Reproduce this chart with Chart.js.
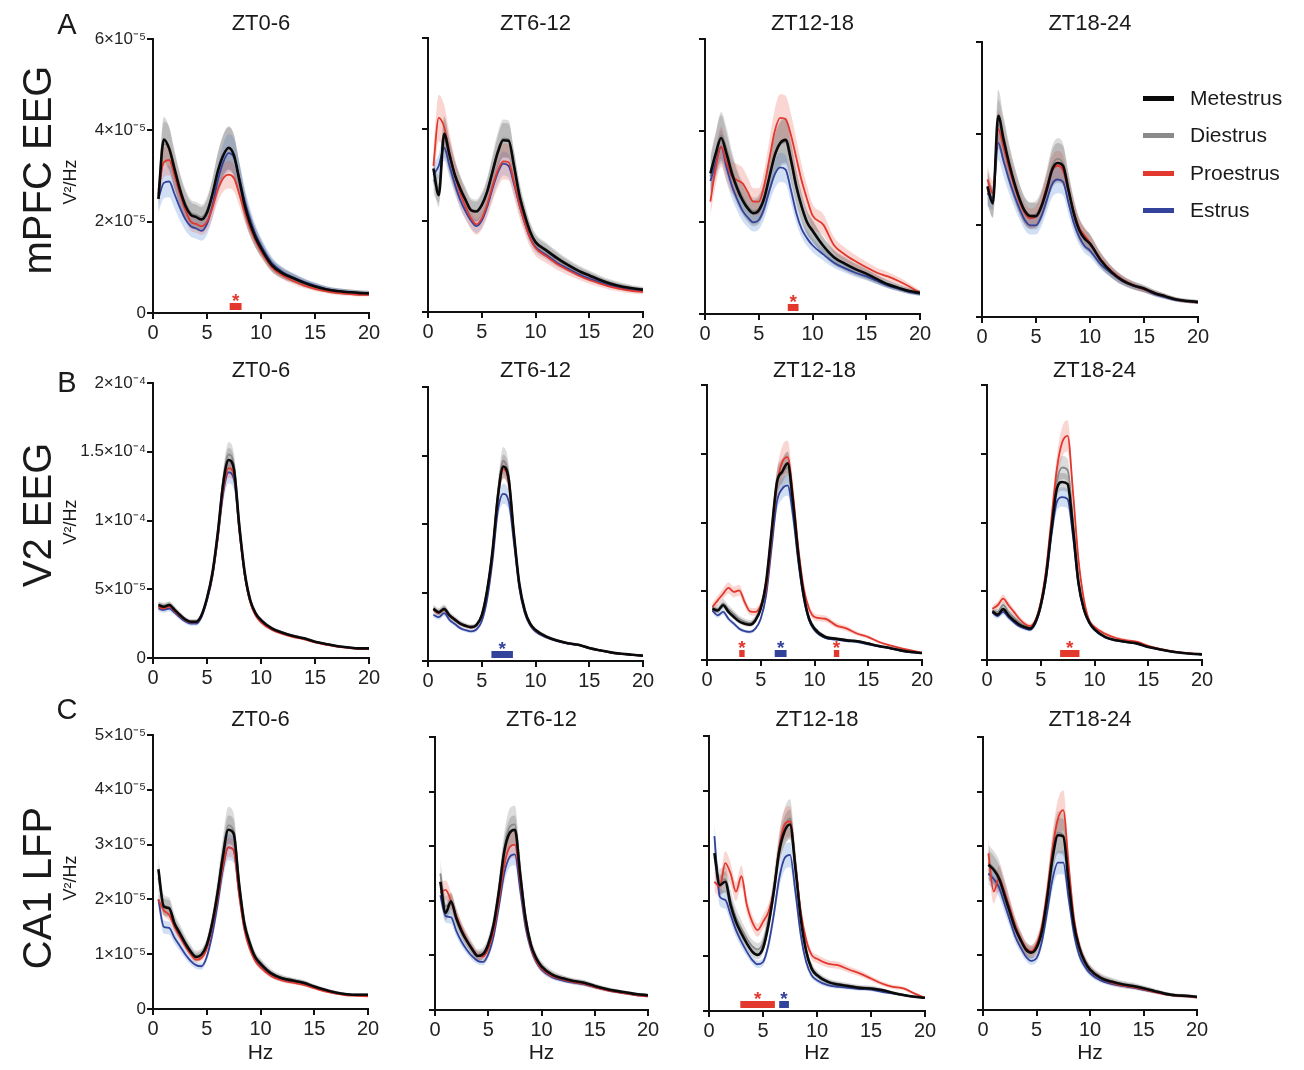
<!DOCTYPE html>
<html>
<head>
<meta charset="utf-8">
<script src="https://cdn.jsdelivr.net/npm/chart.js@4.4.1/dist/chart.umd.min.js"></script>
<style>
  body { margin: 0; background: #fff; width: 1304px; height: 1070px; position: relative; overflow: hidden;
         font-family: "Liberation Sans", Arial, sans-serif; color: #1a1a1a; }
  canvas { position: absolute; }
  .lbl { position: absolute; transform: translate(-50%, -50%); white-space: nowrap; }
  .rot { position: absolute; transform: translate(-50%, -50%) rotate(-90deg); white-space: nowrap; }
  .key { position: absolute; height: 5px; width: 31px; }
  .keytxt { position: absolute; font-size: 21px; transform: translateY(-50%); white-space: nowrap; }
</style>
</head>
<body>
<script>
// frequency bins shared by every panel (Hz)
var freqs = [0.5,1,1.5,2,2.5,3,3.5,4,4.5,5,5.5,6,6.5,7,7.5,8,8.5,9,9.5,10,11,12,13,14,15,16,17,18,19,20];

var stages = ["Metestrus", "Diestrus", "Proestrus", "Estrus"];
var stageColors = ["#0a0a0a", "#8a8a8a", "#e2382d", "#33429a"];
var bandColors = ["rgba(70,70,70,0.22)", "rgba(140,140,140,0.3)", "rgba(235,90,80,0.25)", "rgba(90,140,220,0.28)"];

var rowNames = ["mPFC EEG", "V2 EEG", "CA1 LFP"];
var rowLetters = ["A", "B", "C"];
var panelTitles = ["ZT0-6", "ZT6-12", "ZT12-18", "ZT18-24"];

// y axes, values below are in units of 1e-5 V2/Hz
var rowMax = [6, 20, 5];
var rowStep = [2, 5, 1];
var rowTickLabels = [
  ["0", "2×10⁻⁵", "4×10⁻⁵", "6×10⁻⁵"],
  ["0", "5×10⁻⁵", "1×10⁻⁴", "1.5×10⁻⁴", "2×10⁻⁴"],
  ["0", "1×10⁻⁵", "2×10⁻⁵", "3×10⁻⁵", "4×10⁻⁵", "5×10⁻⁵"]
];

// mPFC EEG, one array per ZT bin (ZT0-6, ZT6-12, ZT12-18, ZT18-24)
var mpfcMet = [
  [2.5,3.8,3.6,3.15,2.7,2.35,2.15,2.1,2.05,2.2,2.6,3.1,3.45,3.62,3.45,2.9,2.35,1.95,1.65,1.42,1.05,0.87,0.76,0.66,0.58,0.52,0.48,0.46,0.44,0.43],
  [3.14,2.56,3.9,3.44,3.0,2.7,2.45,2.23,2.2,2.34,2.63,3.07,3.5,3.76,3.75,3.2,2.56,2.12,1.76,1.53,1.35,1.18,1.03,0.9,0.8,0.7,0.62,0.56,0.52,0.49],
  [3.07,3.5,3.84,3.5,3.07,2.74,2.48,2.3,2.2,2.26,2.52,3.0,3.47,3.73,3.8,3.36,2.78,2.34,2.0,1.82,1.49,1.24,1.1,0.98,0.88,0.76,0.65,0.57,0.5,0.46],
  [2.85,2.48,4.39,3.87,3.36,2.92,2.56,2.3,2.2,2.2,2.41,2.78,3.22,3.36,3.3,2.78,2.26,1.9,1.71,1.6,1.24,0.98,0.8,0.69,0.62,0.52,0.45,0.38,0.35,0.33]
];
var mpfcDi = [
  [2.6,3.7,3.6,3.1,2.7,2.4,2.2,2.15,2.1,2.25,2.6,3.1,3.45,3.6,3.45,2.9,2.35,1.95,1.65,1.42,1.05,0.87,0.76,0.66,0.58,0.52,0.48,0.46,0.44,0.43],
  [2.9,2.7,3.8,3.4,3.0,2.7,2.45,2.25,2.22,2.36,2.65,3.1,3.55,3.8,3.78,3.2,2.58,2.14,1.78,1.55,1.37,1.2,1.05,0.92,0.82,0.72,0.64,0.58,0.53,0.5],
  [3.0,3.5,3.9,3.6,3.15,2.8,2.55,2.35,2.25,2.3,2.55,3.0,3.45,3.7,3.75,3.3,2.75,2.3,1.98,1.8,1.47,1.22,1.08,0.96,0.86,0.75,0.65,0.57,0.5,0.46],
  [2.8,2.5,4.2,3.8,3.3,2.9,2.55,2.3,2.22,2.25,2.45,2.85,3.3,3.45,3.35,2.8,2.3,1.92,1.72,1.6,1.24,0.98,0.8,0.69,0.61,0.52,0.45,0.38,0.35,0.33]
];
var mpfcPro = [
  [2.7,3.3,3.35,3.0,2.6,2.25,2.0,1.95,1.9,2.0,2.3,2.7,2.95,3.03,2.95,2.6,2.2,1.85,1.58,1.35,1.0,0.82,0.7,0.6,0.53,0.48,0.44,0.42,0.4,0.4],
  [3.2,4.25,4.05,3.5,3.0,2.6,2.3,2.05,1.92,2.05,2.35,2.75,3.1,3.3,3.28,2.85,2.35,1.95,1.62,1.4,1.22,1.05,0.92,0.8,0.7,0.62,0.55,0.5,0.46,0.44],
  [2.45,3.2,3.65,3.3,3.0,2.92,2.85,2.65,2.45,2.45,2.8,3.4,4.0,4.28,4.25,3.9,3.4,2.9,2.5,2.15,1.95,1.5,1.3,1.15,1.02,0.9,0.82,0.72,0.6,0.46],
  [3.0,2.7,4.1,3.7,3.25,2.85,2.5,2.25,2.15,2.2,2.45,2.85,3.2,3.3,3.2,2.75,2.3,1.95,1.78,1.62,1.26,1.0,0.82,0.7,0.6,0.52,0.45,0.38,0.34,0.32]
];
var mpfcEst = [
  [2.5,2.85,2.88,2.6,2.3,2.05,1.9,1.85,1.8,1.95,2.35,2.9,3.3,3.5,3.4,2.95,2.45,2.05,1.72,1.48,1.1,0.9,0.78,0.68,0.6,0.53,0.49,0.46,0.44,0.42],
  [3.0,3.2,3.6,3.2,2.8,2.45,2.2,2.0,1.88,2.0,2.3,2.7,3.05,3.25,3.2,2.8,2.35,1.95,1.62,1.42,1.25,1.08,0.95,0.83,0.73,0.65,0.58,0.52,0.48,0.46],
  [2.9,3.3,3.65,3.2,2.8,2.5,2.25,2.1,2.0,2.05,2.3,2.7,3.05,3.2,3.15,2.7,2.2,1.85,1.65,1.5,1.3,1.12,1.0,0.9,0.82,0.72,0.62,0.55,0.48,0.44],
  [2.7,2.6,3.8,3.4,3.0,2.65,2.35,2.1,2.0,2.0,2.2,2.55,2.9,3.0,2.95,2.5,2.05,1.75,1.55,1.45,1.15,0.95,0.78,0.68,0.6,0.5,0.43,0.37,0.34,0.32]
];

// V2 EEG
var v2Met = [
  [3.85,3.73,3.85,3.5,3.13,2.8,2.64,2.64,3.13,4.36,6.18,9.1,12.7,14.4,13.7,9.55,6.18,4.22,3.25,2.76,2.16,1.84,1.6,1.43,1.19,1.02,0.87,0.78,0.7,0.7],
  [3.8,3.55,3.8,3.33,3.02,2.73,2.57,2.47,2.62,3.33,5.15,8.0,12.0,14.2,13.3,9.2,5.6,3.7,2.72,2.26,1.78,1.49,1.3,1.18,0.95,0.78,0.63,0.53,0.46,0.39],
  [3.73,3.6,3.98,3.5,3.13,2.8,2.64,2.57,2.88,3.73,5.67,9.3,12.9,13.7,14.3,11.5,7.6,4.7,3.0,2.28,1.67,1.55,1.43,1.36,1.19,1.02,0.87,0.7,0.58,0.51],
  [3.54,3.3,3.7,3.25,2.88,2.57,2.4,2.28,2.76,3.98,6.16,9.55,12.46,12.95,12.8,9.55,5.67,3.73,2.76,2.23,1.67,1.43,1.31,1.19,0.95,0.78,0.63,0.53,0.46,0.41]
];
var v2Di = [
  [3.9,3.8,3.9,3.55,3.15,2.82,2.66,2.66,3.15,4.4,6.25,9.2,12.9,14.8,14.0,9.7,6.25,4.25,3.27,2.78,2.18,1.86,1.62,1.45,1.2,1.03,0.88,0.79,0.71,0.7],
  [3.85,3.6,3.85,3.37,3.05,2.76,2.6,2.5,2.64,3.37,5.2,8.1,12.2,14.6,13.5,9.3,5.67,3.73,2.76,2.28,1.8,1.5,1.31,1.19,0.95,0.78,0.63,0.53,0.46,0.39],
  [3.8,3.7,4.1,3.7,3.35,3.0,2.8,2.7,3.0,3.85,5.7,9.3,12.8,13.6,14.0,11.3,7.5,4.7,3.05,2.32,1.7,1.57,1.45,1.37,1.2,1.03,0.88,0.71,0.59,0.52],
  [3.6,3.5,4.0,3.5,3.1,2.75,2.5,2.35,2.8,4.05,6.3,9.8,13.0,14.0,13.8,10.2,5.9,3.8,2.8,2.26,1.7,1.45,1.33,1.2,0.96,0.79,0.64,0.54,0.46,0.41]
];
var v2Pro = [
  [3.7,3.6,3.75,3.4,3.05,2.75,2.6,2.6,3.1,4.3,6.0,8.8,12.2,13.8,13.3,9.3,6.0,4.05,3.1,2.6,2.05,1.75,1.52,1.36,1.13,0.97,0.83,0.74,0.67,0.66],
  [3.75,3.5,3.75,3.3,3.0,2.7,2.55,2.45,2.6,3.3,5.1,7.9,11.9,14.0,13.1,9.1,5.55,3.65,2.7,2.24,1.77,1.48,1.29,1.17,0.94,0.77,0.62,0.52,0.45,0.38],
  [3.85,4.34,4.82,5.24,4.95,5.07,4.22,3.54,3.5,3.98,5.2,8.8,12.7,14.4,14.76,12.0,8.1,5.2,3.73,3.13,3.0,2.52,2.28,1.91,1.67,1.31,1.07,0.87,0.7,0.53],
  [3.73,3.98,4.46,3.98,3.5,3.0,2.64,2.47,2.88,4.2,6.6,10.3,13.9,15.85,16.3,12.2,7.37,4.46,2.9,2.4,1.9,1.6,1.43,1.31,1.02,0.82,0.67,0.56,0.48,0.43]
];
var v2Est = [
  [3.6,3.5,3.6,3.3,2.95,2.65,2.5,2.5,3.0,4.2,5.9,8.7,12.0,13.5,13.0,9.2,6.0,4.1,3.15,2.68,2.1,1.8,1.57,1.4,1.17,1.0,0.85,0.76,0.69,0.68],
  [3.37,3.2,3.5,3.0,2.7,2.4,2.25,2.16,2.3,2.9,4.5,7.3,11.0,12.2,11.7,8.6,5.3,3.5,2.6,2.15,1.72,1.45,1.27,1.15,0.93,0.76,0.61,0.51,0.44,0.38],
  [3.6,3.25,3.5,3.0,2.64,2.28,2.1,2.04,2.28,3.0,4.7,8.1,11.5,12.46,12.7,10.5,7.1,4.46,2.88,2.16,1.6,1.48,1.38,1.3,1.14,0.98,0.84,0.68,0.56,0.5],
  [3.45,3.2,3.5,3.1,2.75,2.45,2.3,2.2,2.65,3.85,5.9,9.1,11.5,11.85,11.7,9.0,5.5,3.65,2.7,2.2,1.65,1.42,1.3,1.18,0.95,0.78,0.63,0.53,0.46,0.41]
];

// CA1 LFP
var ca1Met = [
  [2.55,1.87,1.84,1.56,1.38,1.2,1.05,0.95,0.99,1.17,1.56,2.11,2.78,3.27,3.2,2.29,1.56,1.2,0.95,0.83,0.65,0.56,0.52,0.48,0.41,0.35,0.3,0.27,0.26,0.26],
  [2.35,1.78,1.99,1.68,1.44,1.26,1.11,0.99,1.02,1.2,1.56,2.17,2.9,3.24,3.3,2.48,1.68,1.2,0.95,0.8,0.65,0.58,0.53,0.5,0.44,0.39,0.35,0.32,0.29,0.27],
  [2.87,2.29,2.35,1.93,1.62,1.41,1.23,1.08,1.02,1.14,1.56,2.17,2.9,3.27,3.39,2.6,1.68,1.08,0.77,0.65,0.53,0.48,0.45,0.42,0.41,0.38,0.33,0.29,0.26,0.24],
  [2.66,2.57,2.41,2.11,1.8,1.5,1.29,1.11,1.05,1.14,1.44,2.05,2.78,3.2,3.18,2.35,1.56,1.14,0.89,0.74,0.59,0.52,0.47,0.44,0.4,0.35,0.3,0.27,0.26,0.24]
];
var ca1Di = [
  [2.4,1.9,1.85,1.58,1.4,1.22,1.07,0.97,1.0,1.18,1.58,2.15,2.85,3.35,3.25,2.32,1.58,1.21,0.96,0.84,0.66,0.57,0.52,0.48,0.41,0.35,0.3,0.27,0.26,0.26],
  [2.5,1.9,1.95,1.7,1.46,1.28,1.13,1.01,1.04,1.22,1.58,2.2,2.95,3.35,3.4,2.55,1.7,1.22,0.96,0.81,0.66,0.58,0.53,0.5,0.44,0.39,0.35,0.32,0.29,0.27],
  [2.8,2.35,2.4,2.0,1.7,1.5,1.32,1.18,1.12,1.24,1.65,2.25,2.95,3.35,3.5,2.7,1.75,1.12,0.8,0.67,0.54,0.49,0.46,0.43,0.42,0.38,0.33,0.29,0.26,0.24],
  [2.7,2.6,2.45,2.15,1.82,1.52,1.3,1.12,1.06,1.16,1.47,2.1,2.85,3.25,3.2,2.4,1.6,1.16,0.9,0.75,0.6,0.53,0.48,0.45,0.4,0.35,0.3,0.27,0.26,0.24]
];
var ca1Pro = [
  [2.0,1.8,1.72,1.5,1.32,1.15,1.0,0.9,0.93,1.1,1.5,2.0,2.6,2.95,2.9,2.1,1.45,1.1,0.88,0.76,0.6,0.52,0.48,0.44,0.38,0.32,0.28,0.25,0.24,0.23],
  [2.15,2.2,2.0,1.72,1.48,1.28,1.12,1.0,0.98,1.12,1.45,2.0,2.65,2.98,3.03,2.35,1.6,1.15,0.9,0.76,0.62,0.56,0.51,0.48,0.42,0.37,0.33,0.3,0.27,0.25],
  [2.35,2.26,2.69,2.5,2.17,2.45,1.93,1.62,1.47,1.62,1.8,2.17,2.96,3.39,3.45,2.66,1.8,1.29,1.02,0.95,0.86,0.83,0.75,0.68,0.59,0.5,0.44,0.41,0.32,0.24],
  [2.87,2.17,2.41,2.17,1.87,1.56,1.32,1.14,1.08,1.2,1.53,2.17,2.96,3.5,3.66,2.66,1.68,1.17,0.9,0.74,0.58,0.5,0.45,0.42,0.38,0.33,0.29,0.26,0.25,0.23]
];
var ca1Est = [
  [2.0,1.5,1.48,1.3,1.15,1.0,0.88,0.8,0.78,0.95,1.35,1.9,2.55,2.95,2.9,2.15,1.5,1.15,0.92,0.8,0.63,0.54,0.5,0.46,0.4,0.34,0.29,0.27,0.25,0.25],
  [2.1,1.72,1.7,1.45,1.25,1.1,0.98,0.9,0.88,1.02,1.35,1.9,2.5,2.8,2.85,2.2,1.52,1.12,0.88,0.74,0.6,0.54,0.5,0.47,0.42,0.37,0.33,0.3,0.27,0.26],
  [3.18,2.08,2.02,1.75,1.47,1.26,1.08,0.93,0.85,0.89,1.2,1.75,2.41,2.78,2.84,2.17,1.38,0.89,0.65,0.56,0.47,0.44,0.42,0.4,0.39,0.35,0.32,0.29,0.26,0.24],
  [2.5,2.4,2.25,1.95,1.65,1.35,1.15,0.98,0.9,0.95,1.25,1.8,2.4,2.7,2.7,2.05,1.4,1.0,0.8,0.67,0.54,0.48,0.44,0.41,0.37,0.33,0.29,0.26,0.25,0.24]
];

// relative SEM of each stage (Met, Di, Pro, Est) for every panel
var mpfcSem = [[0.13,0.13,0.1,0.12], [0.1,0.11,0.12,0.08], [0.13,0.13,0.12,0.1], [0.13,0.13,0.1,0.1]];
var v2Sem = [[0.06,0.06,0.05,0.06], [0.06,0.07,0.05,0.06], [0.06,0.08,0.08,0.06], [0.05,0.06,0.07,0.06]];
var ca1Sem = [[0.08,0.1,0.06,0.08], [0.08,0.1,0.08,0.07], [0.08,0.1,0.08,0.08], [0.1,0.12,0.1,0.08]];

// significant frequency ranges: [from Hz, to Hz, stage index]
var sigBars = [
  [[7.1, 8.2, 2]], [], [[7.7, 8.7, 2]], [],
  [], [[5.9, 7.9, 3]], [[3.0, 3.5, 2], [6.3, 7.4, 3], [11.8, 12.3, 2]], [[6.8, 8.6, 2]],
  [], [], [[2.9, 6.1, 2], [6.5, 7.4, 3]], []
];

var rowData = [
  [mpfcMet, mpfcDi, mpfcPro, mpfcEst],
  [v2Met, v2Di, v2Pro, v2Est],
  [ca1Met, ca1Di, ca1Pro, ca1Est]
];
var rowSem = [mpfcSem, v2Sem, ca1Sem];

// plot area of each panel on the page: left, right, top, bottom
var panelBox = [
  [153, 369, 39, 313], [428, 643, 38, 312], [705, 920, 39, 314], [982, 1198, 42, 317],
  [153, 369, 383, 658], [428, 643, 387, 661], [707, 922, 385, 660], [987, 1202, 385, 660],
  [153, 368, 735, 1009], [435, 648, 737, 1010], [709, 925, 736, 1011], [983, 1197, 737, 1010]
];
var titleY = [23, 370, 719];
var rowLabelY = [170, 515, 888];
var unitY = [182, 522, 878];
var letterY = [24, 382, 709];

// draws the significance bars and stars under the curves
var sigPlugin = {
  id: "sig",
  afterDatasetsDraw: function (chart, args, opts) {
    var ctx = chart.ctx;
    var xs = chart.scales.x;
    var base = chart.chartArea.bottom;
    ctx.save();
    opts.bars.forEach(function (b) {
      var x1 = xs.getPixelForValue(b[0]);
      var x2 = xs.getPixelForValue(b[1]);
      ctx.fillStyle = stageColors[b[2]];
      ctx.fillRect(x1, base - 10, x2 - x1, 7);
      ctx.font = "bold 19px 'Liberation Sans'";
      ctx.textAlign = "center";
      ctx.textBaseline = "alphabetic";
      ctx.fillText("*", (x1 + x2) / 2, base - 6);
    });
    ctx.restore();
  }
};

function addText(cls, text, x, y, size) {
  var d = document.createElement("div");
  d.className = cls;
  d.textContent = text;
  d.style.left = x + "px";
  d.style.top = y + "px";
  d.style.fontSize = size + "px";
  document.body.appendChild(d);
}

function buildPanel(row, col) {
  var k = row * 4 + col;
  var box = panelBox[k];
  var left = box[0], right = box[1], top = box[2], bottom = box[3];
  var yw = col === 0 ? 100 : 20;
  var padTop = 14, padRight = 18, xh = 38;

  var canvas = document.createElement("canvas");
  var w = yw + (right - left) + padRight;
  var h = padTop + (bottom - top) + xh;
  canvas.width = w;
  canvas.height = h;
  canvas.style.left = (left - yw) + "px";
  canvas.style.top = (top - padTop) + "px";
  document.body.appendChild(canvas);

  // black on top, then red, blue, grey; bands underneath
  var lineOrder = [0, 3, 1, 2];
  var datasets = [];
  for (var s = 0; s < 4; s++) {
    var vals = rowData[row][s][col];
    var sem = rowSem[row][col][s];
    datasets.push({
      data: freqs.map(function (f, i) { return { x: f, y: vals[i] * (1 + sem) }; }),
      borderWidth: 0, pointRadius: 0, fill: "+1", backgroundColor: bandColors[s],
      order: 10 + lineOrder[s], cubicInterpolationMode: "monotone"
    });
    datasets.push({
      data: freqs.map(function (f, i) { return { x: f, y: vals[i] * (1 - sem) }; }),
      borderWidth: 0, pointRadius: 0, fill: false,
      order: 10 + lineOrder[s], cubicInterpolationMode: "monotone"
    });
  }
  for (var s2 = 0; s2 < 4; s2++) {
    var v = rowData[row][s2][col];
    datasets.push({
      label: stages[s2],
      data: freqs.map(function (f, i) { return { x: f, y: v[i] }; }),
      borderColor: stageColors[s2],
      borderWidth: s2 === 0 ? 2.6 : 1.8,
      pointRadius: 0, fill: false,
      order: lineOrder[s2], cubicInterpolationMode: "monotone"
    });
  }

  new Chart(canvas.getContext("2d"), {
    type: "line",
    data: { datasets: datasets },
    plugins: [sigPlugin],
    options: {
      responsive: false,
      animation: false,
      events: [],
      layout: { padding: { top: padTop, right: padRight, left: 0, bottom: 0 } },
      plugins: {
        legend: { display: false },
        tooltip: { enabled: false },
        sig: { bars: sigBars[k] }
      },
      scales: {
        x: {
          type: "linear", min: 0, max: 20,
          afterFit: function (s) { s.height = xh; },
          grid: { drawOnChartArea: false, drawTicks: true, tickLength: 6, color: "#111", lineWidth: 2 },
          border: { display: true, color: "#111", width: 2 },
          ticks: { stepSize: 5, autoSkip: false, maxRotation: 0, padding: 2, color: "#222",
                   font: { family: "Liberation Sans", size: 20 } }
        },
        y: {
          min: 0, max: rowMax[row],
          afterFit: function (s) { s.width = yw; },
          grid: { drawOnChartArea: false, drawTicks: true, tickLength: 6, color: "#111", lineWidth: 2 },
          border: { display: true, color: "#111", width: 2 },
          ticks: {
            stepSize: rowStep[row], autoSkip: false, padding: 1, color: "#222",
            font: { family: "Liberation Sans", size: 17 },
            callback: function (value) {
              if (col !== 0) return "";
              return rowTickLabels[row][Math.round(value / rowStep[row])];
            }
          }
        }
      }
    }
  });

  addText("lbl", panelTitles[col], (left + right) / 2, titleY[row], 22);
  if (row === 2) addText("lbl", "Hz", (left + right) / 2, 1052, 21);
}

for (var r = 0; r < 3; r++) {
  for (var c = 0; c < 4; c++) buildPanel(r, c);
  addText("rot", rowNames[r], 37, rowLabelY[r], 40);
  addText("rot", "V²/Hz", 70, unitY[r], 18);
  addText("lbl", rowLetters[r], 67, letterY[r], 29);
}

// legend
var legendY = [98, 135, 173, 210];
stages.forEach(function (name, i) {
  var bar = document.createElement("div");
  bar.className = "key";
  bar.style.left = "1143px";
  bar.style.top = (legendY[i] - 2) + "px";
  bar.style.background = stageColors[i];
  document.body.appendChild(bar);
  var t = document.createElement("div");
  t.className = "keytxt";
  t.textContent = name;
  t.style.left = "1190px";
  t.style.top = legendY[i] + "px";
  document.body.appendChild(t);
});
</script>
</body>
</html>
